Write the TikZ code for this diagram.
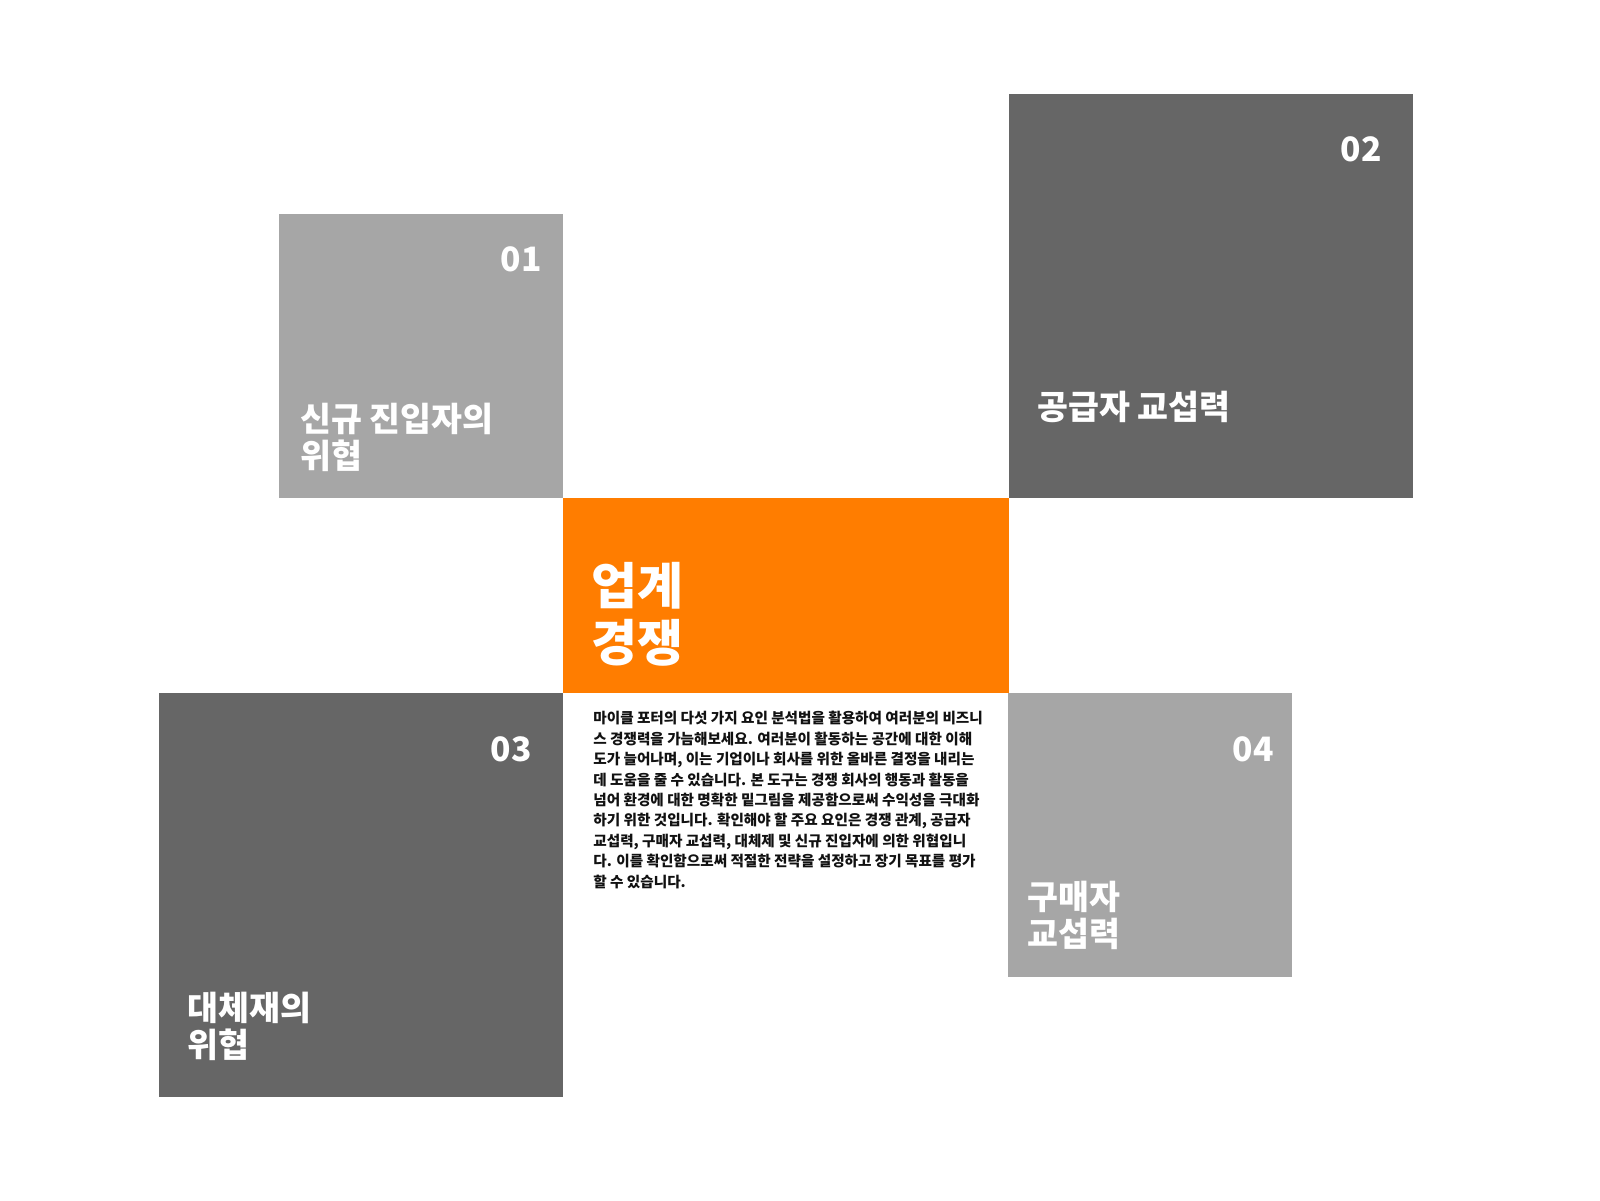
\documentclass[tikz,border=0pt]{standalone}
\usepackage{fontspec}
\setmainfont{Noto Sans CJK KR}
\usepackage{xcolor}
\usepackage{tikz}
\usetikzlibrary{calc}
\definecolor{light}{HTML}{A6A6A6}
\definecolor{dark}{HTML}{666666}
\definecolor{accent}{HTML}{FF7D00}
\definecolor{body}{HTML}{111111}
\tikzset{
  lbox/.style={fill=light},
  dbox/.style={fill=dark},
  obox/.style={fill=accent},
  num/.style={text=white, inner sep=0pt, anchor=base east, font=\bfseries\fontsize{16.8pt}{20pt}\selectfont},
  lab/.style={text=white, inner sep=0pt, anchor=base west, align=left, font=\bfseries\fontsize{16.8pt}{18.5pt}\selectfont},
  ttl/.style={text=white, inner sep=0pt, anchor=base west, align=left, font=\bfseries\fontsize{25pt}{28.5pt}\selectfont},
  txt/.style={text=body, inner sep=0pt, anchor=base west, align=left, font=\bfseries\fontsize{7.3pt}{10.2pt}\selectfont},
}

\begin{document}
\begin{tikzpicture}[x=0.5pt,y=-0.5pt]
  \useasboundingbox (0,0) rectangle (1600,1200);
  \fill[white] (0,0) rectangle (1600,1200);

  % boxes
  \coordinate (A1) at (279,214);  \coordinate (A2) at (563,498);
  \coordinate (B1) at (1009,94);  \coordinate (B2) at (1413,498);
  \coordinate (C1) at (159,693);  \coordinate (C2) at (563,1097);
  \coordinate (D1) at (1008,693); \coordinate (D2) at (1292,977);
  \coordinate (M1) at (563,498);  \coordinate (M2) at (1009,693);
  \fill[lbox] (A1) rectangle (A2);
  \fill[dbox] (B1) rectangle (B2);
  \fill[dbox] (C1) rectangle (C2);
  \fill[lbox] (D1) rectangle (D2);
  \fill[obox] (M1) rectangle (M2);

  % numbers
  \node[num] (n01) at (542,271) {01};
  \node[num] (n02) at (1382,161) {02};
  \node[num] (n03) at (532,761) {03};
  \node[num] (n04) at (1274,761) {04};

  % labels (anchored at the last line)
  \node[lab] (entry) at (300,468) {신규 진입자의\\위협};
  \node[lab] (supply) at (1037,419) {공급자 교섭력};
  \node[lab] (subst) at (187,1057) {대체재의\\위협};
  \node[lab] (buyer) at (1027,946) {구매자\\교섭력};
  \node[ttl] (title) at (591,661) {업계\\경쟁};

  \node[txt] (desc) at (593,887) {마이클 포터의 다섯 가지 요인 분석법을 활용하여 여러분의 비즈니\\
스 경쟁력을 가늠해보세요. 여러분이 활동하는 공간에 대한 이해\\
도가 늘어나며, 이는 기업이나 회사를 위한 올바른 결정을 내리는\\
데 도움을 줄 수 있습니다. 본 도구는 경쟁 회사의 행동과 활동을\\
넘어 환경에 대한 명확한 밑그림을 제공함으로써 수익성을 극대화\\
하기 위한 것입니다. 확인해야 할 주요 요인은 경쟁 관계, 공급자\\
교섭력, 구매자 교섭력, 대체제 및 신규 진입자에 의한 위협입니\\
다. 이를 확인함으로써 적절한 전략을 설정하고 장기 목표를 평가\\
할 수 있습니다.};
\end{tikzpicture}
\end{document}
